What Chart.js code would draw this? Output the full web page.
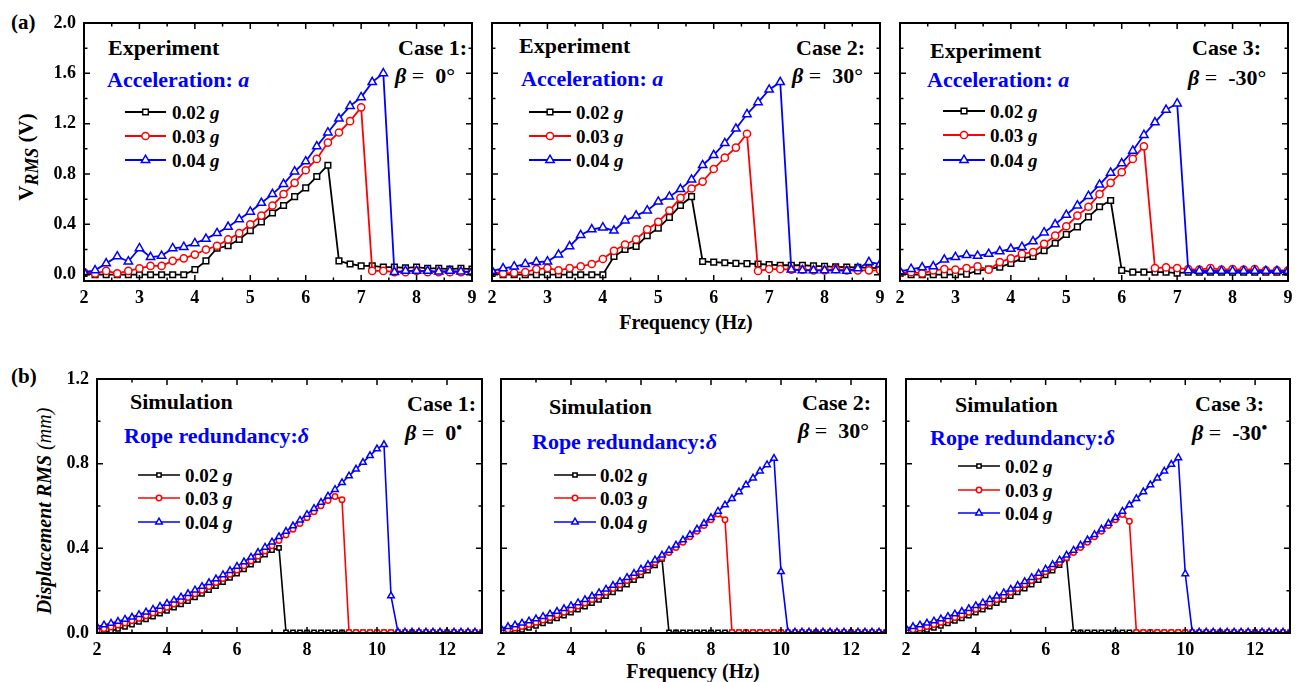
<!DOCTYPE html>
<html>
<head>
<meta charset="utf-8">
<title>RMS response vs frequency</title>
<script src="https://cdn.jsdelivr.net/npm/chart.js@4.4.1/dist/chart.umd.min.js"></script>
<style>
  body { margin: 0; background: #fff; }
  #fig { position: relative; width: 1299px; height: 682px; overflow: hidden;
         font-family: "Liberation Serif", "Times New Roman", serif; font-weight: bold; color: #000; }
  #fig canvas { position: absolute; }
  .t { position: absolute; white-space: nowrap; line-height: 1; transform: translateY(-50%); }
  .ann { font-size: 22px; }
  .blue { color: #0000ff; }
  .leg { font-size: 19px; }
  .eq { font-weight: normal; }
  .dot { font-size: 0.75em; vertical-align: 0.45em; }
  .ytitle { position: absolute; white-space: nowrap; line-height: 1; transform: translate(-50%, -50%) rotate(-90deg); }
</style>
</head>
<body>
<div id="fig">
  <div class="t" style="left:11px;top:22px;font-size:21px">(a)</div>
  <div class="t" style="left:11px;top:376px;font-size:21px">(b)</div>

  <div class="ytitle" style="left:29px;top:157px;font-size:21px">V<sub style="font-style:italic;font-size:0.85em">RMS</sub> (V)</div>
  <div class="ytitle" style="left:44px;top:511px;font-size:20px;font-style:italic">Displacement RMS <span style="font-weight:normal">(mm)</span></div>
  <div class="t" style="left:686px;top:322px;font-size:20px;transform:translate(-50%,-50%)">Frequency (Hz)</div>
  <div class="t" style="left:693px;top:671px;font-size:20px;transform:translate(-50%,-50%)">Frequency (Hz)</div>

  <!-- (a) experiment panels -->
  <div class="t ann" style="left:108px;top:48px">Experiment</div>
  <div class="t ann blue" style="left:107px;top:80px">Acceleration: <i>a</i></div>
  <div class="t ann" style="left:398px;top:48px">Case 1:</div>
  <div class="t ann" style="left:395px;top:76px"><i>β</i> <span class="eq">=</span>&nbsp; 0°</div>
  <div class="t leg" style="left:172px;top:112px">0.02 <i>g</i></div>
  <div class="t leg" style="left:172px;top:136px">0.03 <i>g</i></div>
  <div class="t leg" style="left:172px;top:160px">0.04 <i>g</i></div>

  <div class="t ann" style="left:519px;top:46px">Experiment</div>
  <div class="t ann blue" style="left:521px;top:79px">Acceleration: <i>a</i></div>
  <div class="t ann" style="left:796px;top:48px">Case 2:</div>
  <div class="t ann" style="left:792px;top:76px"><i>β</i> <span class="eq">=</span>&nbsp; 30°</div>
  <div class="t leg" style="left:576px;top:112px">0.02 <i>g</i></div>
  <div class="t leg" style="left:576px;top:136px">0.03 <i>g</i></div>
  <div class="t leg" style="left:576px;top:160px">0.04 <i>g</i></div>

  <div class="t ann" style="left:930px;top:51px">Experiment</div>
  <div class="t ann blue" style="left:927px;top:80px">Acceleration: <i>a</i></div>
  <div class="t ann" style="left:1192px;top:48px">Case 3:</div>
  <div class="t ann" style="left:1188px;top:78px"><i>β</i> <span class="eq">=</span>&nbsp; -30°</div>
  <div class="t leg" style="left:990px;top:111px">0.02 <i>g</i></div>
  <div class="t leg" style="left:990px;top:135px">0.03 <i>g</i></div>
  <div class="t leg" style="left:990px;top:160px">0.04 <i>g</i></div>

  <!-- (b) simulation panels -->
  <div class="t ann" style="left:130px;top:402px">Simulation</div>
  <div class="t ann blue" style="left:124px;top:436px">Rope redundancy:<i>δ</i></div>
  <div class="t ann" style="left:407px;top:404px">Case 1:</div>
  <div class="t ann" style="left:405px;top:432px"><i>β</i> <span class="eq">=</span>&nbsp; 0<span class="dot">•</span></div>
  <div class="t leg" style="left:185px;top:475px">0.02 <i>g</i></div>
  <div class="t leg" style="left:185px;top:498px">0.03 <i>g</i></div>
  <div class="t leg" style="left:185px;top:522px">0.04 <i>g</i></div>

  <div class="t ann" style="left:549px;top:407px">Simulation</div>
  <div class="t ann blue" style="left:532px;top:442px">Rope redundancy:<i>δ</i></div>
  <div class="t ann" style="left:802px;top:403px">Case 2:</div>
  <div class="t ann" style="left:798px;top:431px"><i>β</i> <span class="eq">=</span>&nbsp; 30°</div>
  <div class="t leg" style="left:600px;top:475px">0.02 <i>g</i></div>
  <div class="t leg" style="left:600px;top:498px">0.03 <i>g</i></div>
  <div class="t leg" style="left:600px;top:522px">0.04 <i>g</i></div>

  <div class="t ann" style="left:955px;top:405px">Simulation</div>
  <div class="t ann blue" style="left:930px;top:438px">Rope redundancy:<i>δ</i></div>
  <div class="t ann" style="left:1195px;top:404px">Case 3:</div>
  <div class="t ann" style="left:1192px;top:432px"><i>β</i> <span class="eq">=</span>&nbsp; -30<span class="dot">•</span></div>
  <div class="t leg" style="left:1005px;top:466px">0.02 <i>g</i></div>
  <div class="t leg" style="left:1005px;top:490px">0.03 <i>g</i></div>
  <div class="t leg" style="left:1005px;top:513px">0.04 <i>g</i></div>
</div>

<script>
// ---- data: experiment (row a), 0.2 Hz steps ----
const freqExp = [2.0,2.2,2.4,2.6,2.8,3.0,3.2,3.4,3.6,3.8,4.0,4.2,4.4,4.6,4.8,5.0,5.2,5.4,5.6,5.8,
                 6.0,6.2,6.4,6.6,6.8,7.0,7.2,7.4,7.6,7.8,8.0,8.2,8.4,8.6,8.8,9.0];

const exp1_002 = [0.01,0,0,0,0,0,0,0,0,0,0.04,0.11,0.21,0.23,0.28,0.35,0.42,0.49,0.55,0.62,
                  0.69,0.78,0.87,0.11,0.085,0.07,0.07,0.06,0.06,0.055,0.06,0.05,0.05,0.045,0.05,0.045];
const exp1_003 = [0.02,0.01,0.03,0.01,0.03,0.05,0.07,0.07,0.11,0.13,0.16,0.20,0.23,0.28,0.33,0.40,0.47,0.55,0.64,0.73,
                  0.83,0.92,1.05,1.13,1.22,1.33,0.03,0.03,0.02,0.02,0.03,0.02,0.02,0.02,0.02,0.02];
const exp1_004 = [0.02,0.035,0.09,0.145,0.105,0.21,0.14,0.15,0.21,0.22,0.25,0.285,0.33,0.38,0.44,0.50,0.57,0.64,0.72,0.82,
                  0.90,1.02,1.13,1.24,1.34,1.41,1.53,1.60,0.02,0.03,0.03,0.03,0.025,0.03,0.025,0.025];

const exp2_002 = [0.01,0,0,0,0,0,0,0,0,0,0,0.145,0.20,0.225,0.31,0.37,0.455,0.55,0.62,0.105,
                  0.10,0.095,0.09,0.088,0.085,0.08,0.075,0.075,0.075,0.07,0.066,0.063,0.06,0.058,0.055,0.053];
const exp2_003 = [0.02,0.01,0.015,0.02,0.045,0.053,0.035,0.053,0.066,0.085,0.125,0.19,0.24,0.28,0.36,0.42,0.51,0.61,0.685,0.74,
                  0.84,0.93,1.01,1.12,0.03,0.045,0.045,0.04,0.04,0.035,0.035,0.045,0.035,0.035,0.035,0.035];
const exp2_004 = [0.03,0.05,0.065,0.085,0.10,0.105,0.16,0.225,0.315,0.36,0.375,0.35,0.43,0.47,0.51,0.58,0.62,0.68,0.755,0.87,
                  0.95,1.045,1.16,1.275,1.37,1.47,1.53,0.04,0.035,0.035,0.035,0.035,0.03,0.05,0.10,0.085];

const exp3_002 = [0.01,0,0,0,0,0,0.005,0.03,0.045,0.06,0.09,0.13,0.145,0.19,0.25,0.32,0.38,0.46,0.54,0.59,
                  0.035,0.02,0.02,0.02,0.02,0.013,0.02,0.02,0.02,0.02,0.02,0.02,0.02,0.02,0.02,0.02];
const exp3_003 = [0.015,0.02,0.01,0.035,0.045,0.04,0.053,0.066,0.04,0.10,0.13,0.165,0.18,0.245,0.31,0.385,0.47,0.54,0.64,0.73,
                  0.815,0.92,1.02,0.053,0.058,0.053,0.045,0.04,0.053,0.04,0.045,0.04,0.045,0.035,0.035,0.035];
const exp3_004 = [0.027,0.045,0.058,0.066,0.12,0.14,0.155,0.15,0.165,0.185,0.205,0.22,0.265,0.335,0.40,0.475,0.55,0.625,0.715,0.81,
                  0.885,0.985,1.11,1.21,1.31,1.36,0.035,0.03,0.03,0.03,0.03,0.03,0.03,0.03,0.03,0.03];

// ---- data: simulation (row b), 0.2 Hz steps ----
const freqSim = [2.0,2.2,2.4,2.6,2.8,3.0,3.2,3.4,3.6,3.8,4.0,4.2,4.4,4.6,4.8,5.0,5.2,5.4,5.6,5.8,
                 6.0,6.2,6.4,6.6,6.8,7.0,7.2,7.4,7.6,7.8,8.0,8.2,8.4,8.6,8.8,9.0,9.2,9.4,9.6,9.8,
                 10.0,10.2,10.4,10.6,10.8,11.0,11.2,11.4,11.6,11.8,12.0,12.2,12.4,12.6,12.8,13.0];

const sim1_002 = [0.000,0.003,0.010,0.019,0.029,0.040,0.052,0.064,0.077,0.091,0.105,0.120,0.135,0.151,0.168,0.185,0.203,0.221,0.240,0.260,
                  0.280,0.301,0.323,0.346,0.370,0.392,0.402,0.003,0.003,0.003,0.003,0.003,0.003,0.003,0.003,0.003,0.003,0.003,0.003,0.003,
                  0.003,0.003,0.003,0.003,0.003,0.003,0.003,0.003,0.003,0.003,0.003,0.003,0.003,0.003,0.003,0.003];
const sim1_003 = [0.012,0.020,0.028,0.037,0.047,0.058,0.069,0.081,0.094,0.108,0.122,0.137,0.152,0.168,0.185,0.202,0.220,0.238,0.257,0.277,
                  0.297,0.318,0.340,0.363,0.387,0.412,0.437,0.463,0.490,0.517,0.545,0.573,0.601,0.626,0.645,0.630,0.003,0.003,0.003,0.003,
                  0.003,0.003,0.003,0.003,0.003,0.003,0.003,0.003,0.003,0.003,0.003,0.003,0.003,0.003,0.003,0.003];
const sim1_004 = [0.030,0.038,0.046,0.055,0.065,0.075,0.087,0.099,0.112,0.126,0.140,0.155,0.170,0.186,0.203,0.220,0.238,0.256,0.275,0.295,
                  0.315,0.336,0.358,0.381,0.405,0.430,0.455,0.480,0.506,0.533,0.560,0.588,0.617,0.647,0.678,0.710,0.742,0.774,0.806,0.838,
                  0.870,0.890,0.175,0.004,0.004,0.004,0.004,0.004,0.004,0.004,0.004,0.004,0.004,0.004,0.004,0.004];

const sim2_002 = [0.000,0.002,0.007,0.015,0.024,0.034,0.045,0.057,0.069,0.082,0.096,0.110,0.125,0.141,0.157,0.174,0.192,0.210,0.229,0.250,
                  0.272,0.295,0.320,0.350,0.003,0.003,0.003,0.003,0.003,0.003,0.003,0.003,0.003,0.003,0.003,0.003,0.003,0.003,0.003,0.003,
                  0.003,0.003,0.003,0.003,0.003,0.003,0.003,0.003,0.003,0.003,0.003,0.003,0.003,0.003,0.003,0.003];
const sim2_003 = [0.008,0.015,0.023,0.031,0.040,0.050,0.061,0.073,0.085,0.098,0.112,0.127,0.142,0.158,0.175,0.192,0.210,0.229,0.248,0.268,
                  0.289,0.311,0.333,0.356,0.380,0.404,0.429,0.455,0.481,0.508,0.535,0.562,0.535,0.003,0.003,0.003,0.003,0.003,0.003,0.003,
                  0.003,0.003,0.003,0.003,0.003,0.003,0.003,0.003,0.003,0.003,0.003,0.003,0.003,0.003,0.003,0.003];
const sim2_004 = [0.022,0.030,0.038,0.047,0.057,0.067,0.078,0.090,0.102,0.115,0.129,0.143,0.158,0.174,0.190,0.207,0.225,0.243,0.262,0.282,
                  0.302,0.323,0.345,0.368,0.391,0.415,0.440,0.465,0.491,0.518,0.545,0.575,0.605,0.635,0.667,0.700,0.732,0.765,0.795,0.825,
                  0.290,0.004,0.004,0.004,0.004,0.004,0.004,0.004,0.004,0.004,0.004,0.004,0.004,0.004,0.004,0.004];

const sim3_002 = [0.000,0.002,0.007,0.015,0.024,0.034,0.045,0.057,0.069,0.082,0.096,0.110,0.125,0.141,0.157,0.174,0.192,0.210,0.229,0.250,
                  0.272,0.295,0.321,0.352,0.003,0.003,0.003,0.003,0.003,0.003,0.003,0.003,0.003,0.003,0.003,0.003,0.003,0.003,0.003,0.003,
                  0.003,0.003,0.003,0.003,0.003,0.003,0.003,0.003,0.003,0.003,0.003,0.003,0.003,0.003,0.003,0.003];
const sim3_003 = [0.008,0.015,0.023,0.031,0.040,0.050,0.061,0.073,0.085,0.098,0.112,0.127,0.142,0.158,0.175,0.192,0.210,0.229,0.248,0.268,
                  0.289,0.311,0.333,0.356,0.380,0.404,0.429,0.455,0.481,0.508,0.535,0.560,0.528,0.003,0.003,0.003,0.003,0.003,0.003,0.003,
                  0.003,0.003,0.003,0.003,0.003,0.003,0.003,0.003,0.003,0.003,0.003,0.003,0.003,0.003,0.003,0.003];
const sim3_004 = [0.022,0.030,0.038,0.047,0.057,0.067,0.078,0.090,0.102,0.115,0.129,0.143,0.158,0.174,0.190,0.207,0.225,0.243,0.262,0.282,
                  0.302,0.323,0.345,0.368,0.391,0.415,0.440,0.465,0.491,0.518,0.545,0.575,0.605,0.635,0.667,0.700,0.732,0.765,0.797,0.828,
                  0.280,0.004,0.004,0.004,0.004,0.004,0.004,0.004,0.004,0.004,0.004,0.004,0.004,0.004,0.004,0.004];

// ---- tick positions ----
const expXTicks = [2,2.5,3,3.5,4,4.5,5,5.5,6,6.5,7,7.5,8,8.5,9];
const expYTicks = [0,0.2,0.4,0.6,0.8,1.0,1.2,1.4,1.6,1.8,2.0];
const simXTicks = [2,3,4,5,6,7,8,9,10,11,12,13];
const simYTicks = [0,0.2,0.4,0.6,0.8,1.0,1.2];

const seriesColors = ['#000000', '#ff0000', '#0000ff'];
const seriesShapes = ['rect', 'circle', 'triangle'];

function isMajor(v, step) {
    return Math.abs(v / step - Math.round(v / step)) < 1e-6;
}

function drawMarker(ctx, style, x, y, r) {
    ctx.beginPath();
    if (style === 'rect') {
        const s = r * Math.SQRT1_2;
        ctx.rect(x - s, y - s, 2 * s, 2 * s);
    } else if (style === 'circle') {
        ctx.arc(x, y, r, 0, Math.PI * 2);
    } else {
        ctx.moveTo(x, y - r);
        ctx.lineTo(x + r * 0.866, y + r * 0.5);
        ctx.lineTo(x - r * 0.866, y + r * 0.5);
        ctx.closePath();
    }
    ctx.fill();
    ctx.stroke();
}

// frame with inward ticks on all four sides
const frameTicks = {
    id: 'frameTicks',
    afterDatasetsDraw(chart, args, opts) {
        const { ctx, chartArea: a, scales: { x, y } } = chart;
        ctx.save();
        ctx.strokeStyle = '#000';
        ctx.lineWidth = 1.5;
        ctx.beginPath();
        x.ticks.forEach(t => {
            const px = x.getPixelForValue(t.value);
            const len = isMajor(t.value, opts.xMajor) ? 6 : 3.5;
            ctx.moveTo(px, a.bottom); ctx.lineTo(px, a.bottom - len);
            ctx.moveTo(px, a.top); ctx.lineTo(px, a.top + len);
        });
        y.ticks.forEach(t => {
            const py = y.getPixelForValue(t.value);
            const len = isMajor(t.value, opts.yMajor) ? 6 : 3.5;
            ctx.moveTo(a.left, py); ctx.lineTo(a.left + len, py);
            ctx.moveTo(a.right, py); ctx.lineTo(a.right - len, py);
        });
        ctx.stroke();
        ctx.lineWidth = 2;
        ctx.strokeRect(a.left, a.top, a.right - a.left, a.bottom - a.top);
        ctx.restore();
    }
};

// line + marker samples for the hand-placed legend
const legendSymbols = {
    id: 'legendSymbols',
    afterDatasetsDraw(chart, args, opts) {
        if (!opts.rows) return;
        const ctx = chart.ctx;
        opts.rows.forEach((ly, i) => {
            const y = ly - opts.oy;
            const x1 = opts.x1 - opts.ox, x2 = opts.x2 - opts.ox;
            ctx.save();
            ctx.strokeStyle = seriesColors[i];
            ctx.fillStyle = '#fff';
            ctx.lineWidth = opts.lineWidth;
            ctx.beginPath(); ctx.moveTo(x1, y); ctx.lineTo(x2, y); ctx.stroke();
            ctx.lineWidth = 1.5;
            drawMarker(ctx, seriesShapes[i], (x1 + x2) / 2, y, opts.radii[i]);
            ctx.restore();
        });
    }
};

const rowA = {
    xs: freqExp, xMin: 2, xMax: 9, xTicks: expXTicks, xMajor: 1,
    yMin: -0.05, yMax: 2.0, yTicks: expYTicks, yMajor: 0.4,
    radii: [4, 3.6, 4.8], lineWidth: 1.8
};
const rowB = {
    xs: freqSim, xMin: 2, xMax: 13, xTicks: simXTicks, xMajor: 2,
    yMin: 0, yMax: 1.2, yTicks: simYTicks, yMajor: 0.4,
    radii: [3, 2.7, 3.8], lineWidth: 1.6
};

const panels = [
    { row: rowA, box: [84, 23, 472, 281], yLabels: true, series: [exp1_002, exp1_003, exp1_004], legend: { x1: 125, x2: 166, rows: [112, 136, 160] } },
    { row: rowA, box: [492, 23, 880, 281], yLabels: false, series: [exp2_002, exp2_003, exp2_004], legend: { x1: 529, x2: 571, rows: [112, 136, 160] } },
    { row: rowA, box: [900, 23, 1288, 281], yLabels: false, series: [exp3_002, exp3_003, exp3_004], legend: { x1: 943, x2: 985, rows: [111, 135, 160] } },
    { row: rowB, box: [97, 379, 482, 633], yLabels: true, series: [sim1_002, sim1_003, sim1_004], legend: { x1: 138, x2: 180, rows: [475, 498, 522] } },
    { row: rowB, box: [501, 379, 886, 633], yLabels: false, series: [sim2_002, sim2_003, sim2_004], legend: { x1: 554, x2: 596, rows: [475, 498, 522] } },
    { row: rowB, box: [906, 379, 1290, 633], yLabels: false, series: [sim3_002, sim3_003, sim3_004], legend: { x1: 958, x2: 1000, rows: [466, 490, 513] } }
];

const tickFont = { family: 'Liberation Serif', size: 18, weight: 'bold' };
const fig = document.getElementById('fig');

function makePanel(p) {
    const L = 60, R = 12, T = 12, B = 34;
    const [x0, y0, x1, y1] = p.box;
    const st = p.row;
    const w = x1 - x0 + L + R, h = y1 - y0 + T + B;
    const cv = document.createElement('canvas');
    cv.width = w; cv.height = h;
    cv.style.left = (x0 - L) + 'px';
    cv.style.top = (y0 - T) + 'px';
    cv.style.width = w + 'px';
    cv.style.height = h + 'px';
    fig.appendChild(cv);

    const datasets = p.series.map((vals, i) => ({
        label: ['0.02 g', '0.03 g', '0.04 g'][i],
        data: st.xs.map((f, k) => ({ x: f, y: vals[k] })),
        borderColor: seriesColors[i],
        backgroundColor: '#fff',
        pointBackgroundColor: '#fff',
        pointBorderColor: seriesColors[i],
        pointStyle: seriesShapes[i],
        pointRadius: st.radii[i],
        pointBorderWidth: 1.5,
        borderWidth: st.lineWidth,
        tension: 0,
        order: 2 - i
    }));

    return new Chart(cv, {
        type: 'line',
        data: { datasets },
        plugins: [frameTicks, legendSymbols],
        options: {
            responsive: false,
            animation: false,
            events: [],
            layout: { padding: { left: 0, right: R, top: T, bottom: 0 } },
            plugins: {
                legend: { display: false },
                tooltip: { enabled: false },
                frameTicks: { xMajor: st.xMajor, yMajor: st.yMajor },
                legendSymbols: {
                    rows: p.legend.rows, x1: p.legend.x1, x2: p.legend.x2,
                    ox: x0 - L, oy: y0 - T, radii: st.radii, lineWidth: st.lineWidth
                }
            },
            scales: {
                x: {
                    type: 'linear', min: st.xMin, max: st.xMax,
                    afterBuildTicks: s => { s.ticks = st.xTicks.map(v => ({ value: v })); },
                    afterFit: s => { s.height = B; s.paddingLeft = 0; s.paddingRight = 0; },
                    grid: { display: false, drawTicks: false },
                    border: { display: false },
                    ticks: {
                        autoSkip: false, maxRotation: 0, padding: 7, color: '#000', font: tickFont,
                        callback: v => isMajor(v, st.xMajor) ? String(v) : ''
                    }
                },
                y: {
                    type: 'linear', min: st.yMin, max: st.yMax,
                    afterBuildTicks: s => { s.ticks = st.yTicks.map(v => ({ value: v })); },
                    afterFit: s => { s.width = L; s.paddingTop = 0; s.paddingBottom = 0; },
                    grid: { display: false, drawTicks: false },
                    border: { display: false },
                    ticks: {
                        autoSkip: false, padding: 8, color: '#000', font: tickFont,
                        callback: v => (p.yLabels && isMajor(v, st.yMajor)) ? v.toFixed(1) : ''
                    }
                }
            }
        }
    });
}

panels.forEach(makePanel);
</script>
</body>
</html>
